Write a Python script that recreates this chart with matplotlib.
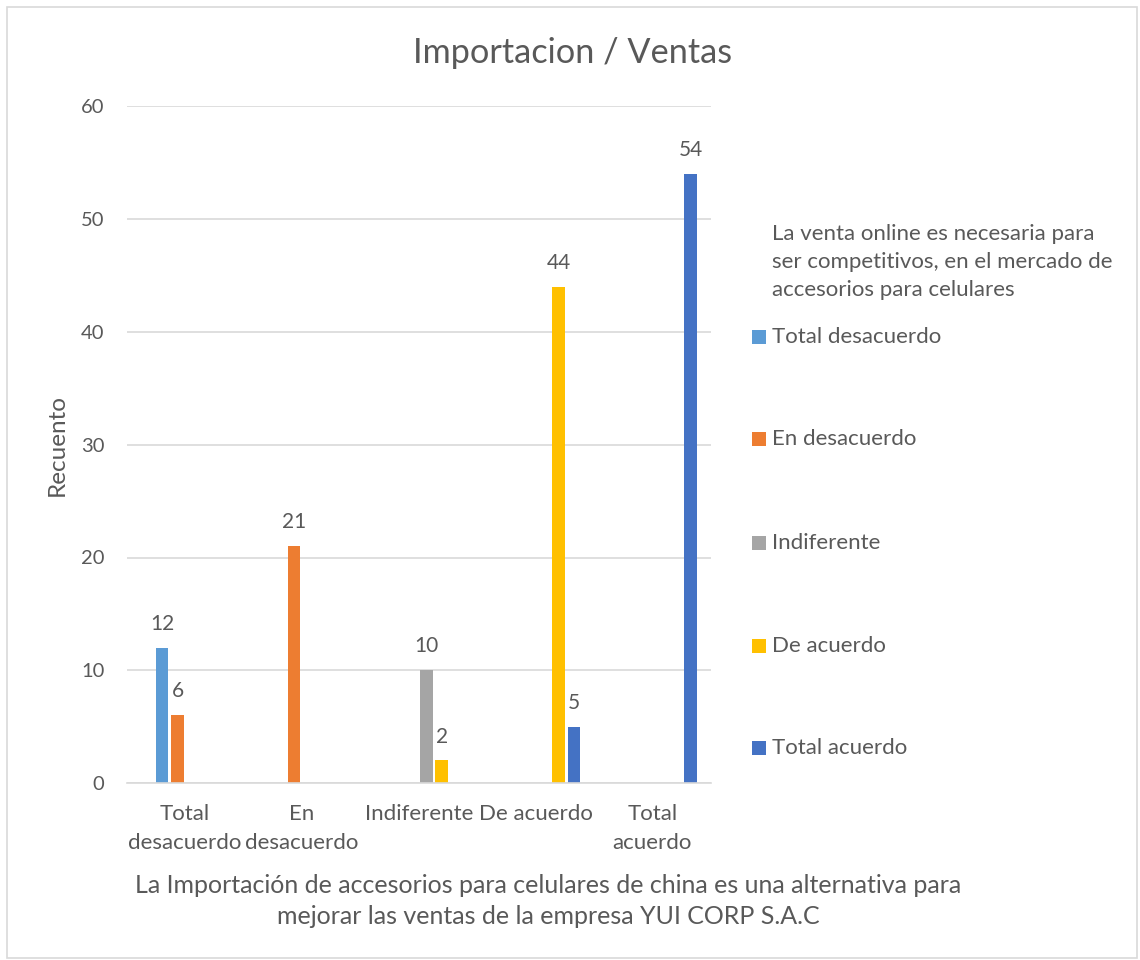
import matplotlib
matplotlib.use("Agg")
import matplotlib.pyplot as plt
from matplotlib.patches import Rectangle
import numpy as np

plt.rcParams['font.family'] = ['Lato', 'DejaVu Sans']

categories = ["Total\ndesacuerdo", "En\ndesacuerdo", "Indiferente", "De acuerdo", "Total\nacuerdo"]
series_names = ["Total desacuerdo", "En desacuerdo", "Indiferente", "De acuerdo", "Total acuerdo"]
series_colors = ["#5B9BD5", "#ED7D31", "#A5A5A5", "#FFC000", "#4472C4"]
# values[series][category]; None = no bar
total_desacuerdo = [12, None, None, None, None]
en_desacuerdo = [6, 21, None, None, None]
indiferente = [None, None, 10, None, None]
de_acuerdo = [None, None, 2, 44, None]
total_acuerdo = [None, None, None, 5, 54]
values = [total_desacuerdo, en_desacuerdo, indiferente, de_acuerdo, total_acuerdo]

title = "Importacion / Ventas"
ylabel = "Recuento"
xlabel = "La Importación de accesorios para celulares de china es una alternativa para\nmejorar las ventas de la empresa YUI CORP S.A.C"
legend_title = "La venta online es necesaria para\nser competitivos, en el mercado de\naccesorios para celulares"

TXT = "#595959"
GRID = "#D9D9D9"

W, H = 1140, 960
fig = plt.figure(figsize=(W / 100, H / 100), dpi=100)

# outer border
fig.patches.append(Rectangle((7 / W, 2 / H), (W - 10) / W, (H - 9) / H, transform=fig.transFigure,
                             fill=False, edgecolor="#D9D9D9", linewidth=1.2))

ax = fig.add_axes([126.7 / W, (H - 783) / H, 584 / W, (783 - 106.5) / H])
ax.set_xlim(-0.5, 4.5)
ax.set_ylim(0, 60)
ax.set_yticks(np.arange(0, 61, 10))
ax.yaxis.grid(True, color=GRID, linewidth=1.2)
ax.set_axisbelow(True)
for sp in ["left", "right", "top"]:
    ax.spines[sp].set_visible(False)
ax.spines["bottom"].set_color(GRID)
ax.spines["bottom"].set_linewidth(1.2)
ax.tick_params(axis="both", length=0, colors=TXT)
ax.tick_params(axis="y", pad=16, labelsize=14.5)
ax.tick_params(axis="x", pad=15, labelsize=16)
ax.set_xticks(range(len(categories)))
ax.set_xticklabels(categories, linespacing=1.6, va="top")

nslots = 6
step = 0.131
bw = 0.106
x = np.arange(len(categories))
for s, (name, col, vals) in enumerate(zip(series_names, series_colors, values)):
    off = (s + 1 - (nslots - 1) / 2) * step
    hv = [v if v is not None else 0 for v in vals]
    ax.bar(x + off, hv, width=bw, color=col, label=name)
    for xi, v in zip(x, vals):
        if v is not None:
            ax.annotate(str(v), (xi + off, v), xytext=(0, 10), textcoords="offset points",
                        ha="center", va="bottom", fontsize=15, color=TXT)

fig.text(57 / W, 1 - 445 / H, ylabel, rotation=90, ha="center", va="center", fontsize=17.5, color=TXT)
fig.text(573 / W, 1 - 53 / H, title, ha="center", va="center", fontsize=24.7, color=TXT)
fig.text(548 / W, 1 - 901 / H, xlabel, ha="center", va="center", fontsize=18, color=TXT,
         linespacing=1.45)

# legend
fig.text(772 / W, 1 - 262 / H, legend_title, ha="left", va="center", fontsize=16, color=TXT,
         linespacing=1.5)
leg_y = [337, 439, 543, 646, 748]
for name, col, yy in zip(series_names, series_colors, leg_y):
    fig.patches.append(Rectangle((752 / W, 1 - (yy + 7) / H), 14 / W, 14 / H,
                                 transform=fig.transFigure, facecolor=col, edgecolor="none"))
    fig.text(772 / W, 1 - yy / H, name, ha="left", va="center", fontsize=16, color=TXT)

fig.savefig("out.png", dpi=100, facecolor="white")
